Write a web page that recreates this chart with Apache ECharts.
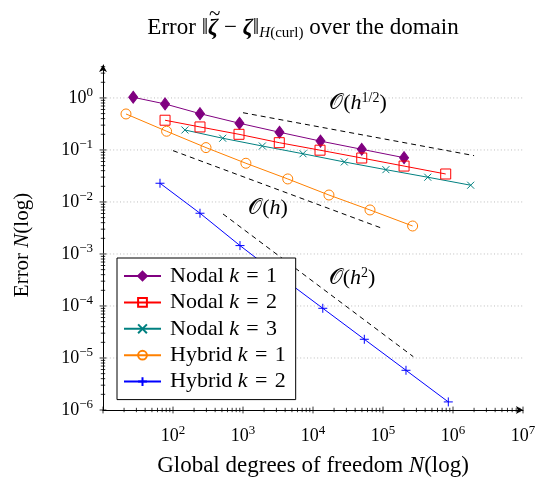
<!DOCTYPE html>
<html><head><meta charset="utf-8">
<script src="https://cdn.jsdelivr.net/npm/echarts@6/dist/echarts.min.js"></script>
<style>html,body{margin:0;padding:0;background:#fff}#c{width:539px;height:478px}</style>
</head><body><div id="c"></div>
<script>
// ---- data ----
const nodal1N = [27, 77, 243, 890, 3320, 12800, 49700, 200000];
const nodal1E = [1.03, 0.767, 0.499, 0.326, 0.219, 0.148, 0.103, 0.071];
const nodal2N = [77, 243, 877, 3300, 12600, 49700, 200000, 787000];
const nodal2E = [0.373, 0.277, 0.200, 0.138, 0.099, 0.070, 0.049, 0.0345];
const nodal3N = [148, 513, 1890, 7200, 28000, 110000, 436000, 1790000];
const nodal3E = [0.242, 0.168, 0.119, 0.0845, 0.0588, 0.0418, 0.0299, 0.021];
const hybrid1N = [21.3, 81, 296, 1100, 4360, 16900, 65200, 265000];
const hybrid1E = [0.492, 0.229, 0.111, 0.0555, 0.0277, 0.0136, 0.00702, 0.00345];
const hybrid2N = [65.2, 243, 906, 3490, 13800, 54100, 213000, 857000];
const hybrid2E = [0.0229, 0.00607, 0.00145, 0.00036, 9.03e-5, 2.29e-5, 5.8e-6, 1.43e-6];
const refHalfN = [1000, 2000000], refHalfE = [0.52, 0.0778];
const refOneN = [100, 100000], refOneE = [0.097, 0.00307];
const refTwoN = [518, 271000], refTwoE = [0.00588, 1.06e-5];
const seriesNames = ['Nodal k = 1', 'Nodal k = 2', 'Nodal k = 3', 'Hybrid k = 1', 'Hybrid k = 2'];
const xMin = 10, xMax = 1e7, yMin = 1e-6, yMax = 4.3;
const xMajorExp = [1, 2, 3, 4, 5, 6, 7];
const yMajorExp = [-6, -5, -4, -3, -2, -1, 0];
const xLabelExp = [2, 3, 4, 5, 6, 7];
const yLabelExp = [-6, -5, -4, -3, -2, -1, 0];
const minorMult = [2, 3, 4, 5, 6, 7, 8, 9];

const FONT = '"Liberation Serif","Times New Roman",serif';
const zip = (a, b) => a.map((v, i) => [v, b[i]]);

const xMajor = xMajorExp.map(e => Math.pow(10, e));
const xMinor = [];
xMajorExp.slice(0, -1).forEach(e => minorMult.forEach(m => xMinor.push(m * Math.pow(10, e))));
const yMajor = yMajorExp.map(e => Math.pow(10, e));
const yMinor = [];
yMajorExp.forEach(e => minorMult.forEach(m => { const v = m * Math.pow(10, e); if (v <= yMax) yMinor.push(v); }));

function powLabel(v, allowed) {
  const l = Math.log10(v), e = Math.round(l);
  if (Math.abs(l - e) > 1e-6 || allowed.indexOf(e) < 0) return '';
  return '{b|10}{s|' + String(e).replace('-', '\u2212') + '}';
}
const tickRich = {
  b: { fontFamily: FONT, fontSize: 18, color: '#000' },
  s: { fontFamily: FONT, fontSize: 13, color: '#000', padding: [0, 0, 11, 0] }
};

function tickSeries(vals, isX, half) {
  return {
    type: 'custom', silent: true, clip: false, z: 5,
    data: vals.map(v => isX ? [v, yMin] : [xMin, v]),
    renderItem: function (params, api) {
      const p = api.coord([api.value(0), api.value(1)]);
      const shape = isX ? { x1: p[0], y1: p[1] - half, x2: p[0], y2: p[1] + half }
                        : { x1: p[0] - half, y1: p[1], x2: p[0] + half, y2: p[1] };
      return { type: 'line', shape: shape, style: { stroke: '#000', lineWidth: 0.8 } };
    }
  };
}
const gridSeries = {
  type: 'custom', silent: true, clip: false, z: 1,
  data: yMajor.slice(1).map(v => [xMin, v]),
  renderItem: function (params, api) {
    const a = api.coord([xMin, api.value(1)]);
    const b = api.coord([xMax, api.value(1)]);
    return { type: 'line', shape: { x1: a[0], y1: a[1], x2: b[0], y2: b[1] },
      style: { stroke: '#bdbdbd', lineWidth: 1, lineDash: [1, 2.4] } };
  }
};

function dataSeries(name, N, E, color, symbol, size, filled) {
  return {
    name: name, type: 'line', data: zip(N, E), z: 3,
    symbol: symbol, symbolSize: size, showSymbol: true,
    lineStyle: { color: color, width: 1 },
    itemStyle: { color: filled ? color : 'rgba(255,255,255,0)', borderColor: color, borderWidth: 1 },
    emphasis: { disabled: true }, animation: false
  };
}
function refSeries(N, E) {
  return {
    type: 'line', data: zip(N, E), symbol: 'none', z: 2,
    lineStyle: { color: '#000', width: 1, type: [5, 4] }, animation: false
  };
}
const SQUARE = 'path://M0,0L10,0L10,10L0,10Z';
const CIRCLE = 'path://M5,0A5,5,0,1,1,5,10A5,5,0,1,1,5,0Z';
const CROSS_X = 'path://M0,0L10,10M10,0L0,10';
const PLUS = 'path://M0,5L10,5M5,0L5,10';

// measure text for the title tilde placement
const mctx = document.createElement('canvas').getContext('2d');
function tw(font, s) { mctx.font = font; return mctx.measureText(s).width; }
const TF = '23px ' + FONT, TFB = 'italic bold 23px ' + FONT, TFS = '15px ' + FONT, TFSI = 'italic 15px ' + FONT;
const tPre = 'Error \u2016', tZ = '\u03B6', tMid = ' \u2212 ', tBar = '\u2016', tSubI = 'H', tSub = '(curl)', tPost = ' over the domain';
const titleW = tw(TF, tPre) + 2 * tw(TFB, tZ) + tw(TF, tMid) + tw(TF, tBar) + tw(TFSI, tSubI) + tw(TFS, tSub) + tw(TF, tPost);
const titleCX = 303;
const tildeX = titleCX - titleW / 2 + tw(TF, tPre) + tw(TFB, tZ) / 2 + 1.5;

const chart = echarts.init(document.getElementById('c'), null, { renderer: 'canvas' });
chart.setOption({
  animation: false,
  grid: { left: 103, right: 16, top: 65, bottom: 68, containLabel: false },
  xAxis: {
    type: 'log', logBase: 10, min: xMin, max: xMax, interval: 1,
    axisLine: { show: true, symbol: ['none', 'arrow'], symbolSize: [6, 7], lineStyle: { color: '#000', width: 1 } },
    axisTick: { show: false }, splitLine: { show: false }, minorTick: { show: false },
    axisLabel: { margin: 14, formatter: v => powLabel(v, xLabelExp), rich: tickRich }
  },
  yAxis: {
    type: 'log', logBase: 10, min: yMin, max: yMax, interval: 1,
    axisLine: { show: true, symbol: ['none', 'arrow'], symbolSize: [6, 7], lineStyle: { color: '#000', width: 1 } },
    axisTick: { show: false }, splitLine: { show: false }, minorTick: { show: false },
    axisLabel: { margin: 10, formatter: v => powLabel(v, yLabelExp), rich: tickRich }
  },
  legend: {
    data: seriesNames, orient: 'vertical', left: 117, top: 258,
    padding: [7, 10, 7, 6], itemWidth: 37, itemHeight: 11, itemGap: 4.4,
    backgroundColor: '#fff', borderColor: '#000', borderWidth: 1, borderRadius: 0,
    selectedMode: false,
    formatter: n => n.replace(' k = ', ' {i|k}\u2004=\u2004'),
    textStyle: { fontFamily: FONT, fontSize: 22, color: '#000', lineHeight: 20, padding: [0, 0, 0, 4],
      rich: { i: { fontFamily: FONT, fontSize: 22, fontStyle: 'italic', color: '#000', lineHeight: 20 } } }
  },
  graphic: [
    { type: 'text', x: titleCX, y: 28, style: {
      text: tPre + '{b|' + tZ + '}' + tMid + '{b|' + tZ + '}' + tBar + '{si|' + tSubI + '}{s|' + tSub + '}' + tPost,
      font: TF, fill: '#000', align: 'center', verticalAlign: 'middle',
      rich: { b: { font: TFB, fill: '#000' },
              si: { font: TFSI, fill: '#000', padding: [10, 0, 0, 0] },
              s: { font: TFS, fill: '#000', padding: [10, 0, 0, 0] } } } },
    { type: 'text', x: tildeX, y: 14, style: {
      text: '~', font: '21px ' + FONT, fill: '#000', align: 'center', verticalAlign: 'middle' } },
    { type: 'text', x: 313, y: 466, style: {
      text: 'Global degrees of freedom {i|N}(log)', font: '23px ' + FONT, fill: '#000',
      align: 'center', verticalAlign: 'middle',
      rich: { i: { font: 'italic 23px ' + FONT, fill: '#000' } } } },
    { type: 'text', x: 22, y: 245, rotation: Math.PI / 2, style: {
      text: 'Error {i|N}(log)', font: '21px ' + FONT, fill: '#000',
      align: 'center', verticalAlign: 'middle',
      rich: { i: { font: 'italic 21px ' + FONT, fill: '#000' } } } },
    { type: 'text', x: 358, y: 103, z: 10, style: {
      text: '\uD835\uDCAA({i|h}{s|1/2})', font: '22px ' + FONT, fill: '#000', align: 'center', verticalAlign: 'middle',
      rich: { i: { font: 'italic 22px ' + FONT, fill: '#000' }, s: { font: '14px ' + FONT, fill: '#000', padding: [0, 0, 10, 0] } } } },
    { type: 'text', x: 268, y: 208, z: 10, style: {
      text: '\uD835\uDCAA({i|h})', font: '22px ' + FONT, fill: '#000', align: 'center', verticalAlign: 'middle',
      rich: { i: { font: 'italic 22px ' + FONT, fill: '#000' } } } },
    { type: 'text', x: 352, y: 278, z: 10, style: {
      text: '\uD835\uDCAA({i|h}{s|2})', font: '22px ' + FONT, fill: '#000', align: 'center', verticalAlign: 'middle',
      rich: { i: { font: 'italic 22px ' + FONT, fill: '#000' }, s: { font: '14px ' + FONT, fill: '#000', padding: [0, 0, 10, 0] } } } }
  ],
  series: [
    gridSeries,
    refSeries(refHalfN, refHalfE),
    refSeries(refOneN, refOneE),
    refSeries(refTwoN, refTwoE),
    dataSeries(seriesNames[0], nodal1N, nodal1E, '#800080', 'diamond', [9, 12], true),
    dataSeries(seriesNames[1], nodal2N, nodal2E, '#ff0000', SQUARE, 10, false),
    dataSeries(seriesNames[2], nodal3N, nodal3E, '#008080', CROSS_X, 7, false),
    dataSeries(seriesNames[3], hybrid1N, hybrid1E, '#ff8000', CIRCLE, 10, false),
    dataSeries(seriesNames[4], hybrid2N, hybrid2E, '#0000ff', PLUS, 9, false),
    tickSeries(xMajor, true, 3.4),
    tickSeries(xMinor, true, 2.2),
    tickSeries(yMajor, false, 3.4),
    tickSeries(yMinor, false, 2.2)
  ]
});
</script></body></html>
